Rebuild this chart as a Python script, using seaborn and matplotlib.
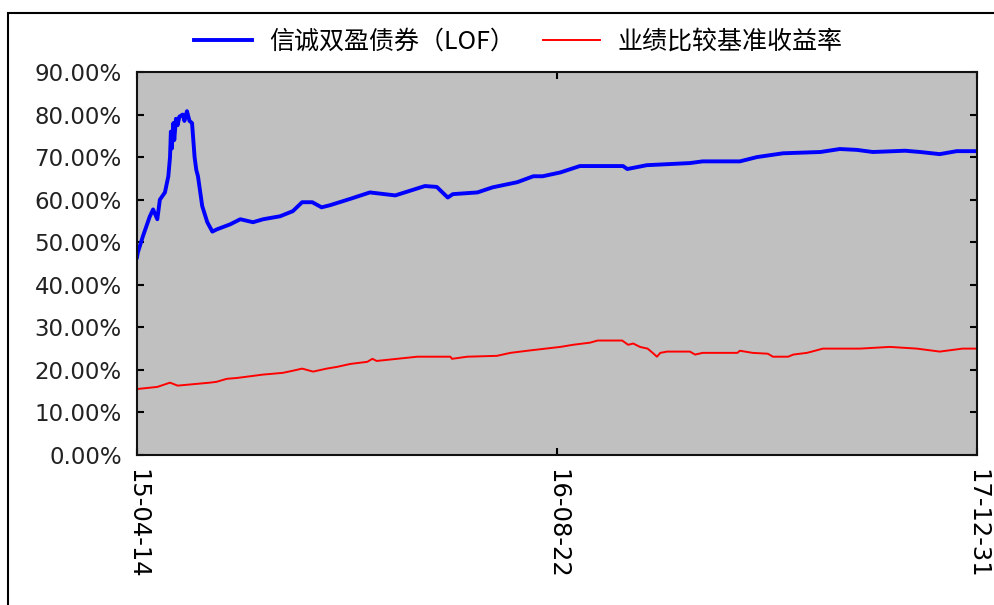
import pandas as pd
import seaborn as sns
import matplotlib.pyplot as plt
from matplotlib.patches import Rectangle

# 信诚双盈债券（LOF） cumulative return, %
fund_dates = [
    '2015-04-14', '2015-04-15', '2015-04-21', '2015-04-29', '2015-05-03', '2015-05-08',
    '2015-05-11', '2015-05-17', '2015-05-21', '2015-05-23', '2015-05-24', '2015-05-25',
    '2015-05-27', '2015-05-28', '2015-05-30', '2015-06-01', '2015-06-03', '2015-06-07',
    '2015-06-09', '2015-06-12', '2015-06-15', '2015-06-18', '2015-06-21', '2015-06-23',
    '2015-06-25', '2015-06-30', '2015-07-06', '2015-07-12', '2015-07-17', '2015-08-02',
    '2015-08-14', '2015-08-29', '2015-09-10', '2015-09-30', '2015-10-15', '2015-10-26',
    '2015-11-07', '2015-11-18', '2015-11-28', '2015-12-22', '2016-01-14', '2016-02-13',
    '2016-03-19', '2016-04-02', '2016-04-15', '2016-04-21', '2016-05-20', '2016-06-07',
    '2016-07-06', '2016-07-25', '2016-08-05', '2016-08-26', '2016-09-18', '2016-11-08',
    '2016-11-13', '2016-12-06', '2017-01-26', '2017-02-10', '2017-03-26', '2017-04-15',
    '2017-05-16', '2017-06-29', '2017-07-22', '2017-08-11', '2017-08-30', '2017-10-07',
    '2017-10-25', '2017-11-17', '2017-12-07', '2017-12-31',
]
fund_values = [
    46.5, 47.6, 51.4, 56.0, 57.7, 55.4,
    60.0, 61.7, 65.5, 70.0, 76.0, 72.0,
    78.0, 74.0, 79.0, 77.5, 79.5, 80.0,
    78.5, 80.8, 78.5, 78.0, 70.0, 67.0,
    65.5, 58.5, 54.7, 52.5, 53.0, 54.2,
    55.4, 54.7, 55.4, 56.1, 57.3, 59.4,
    59.4, 58.2, 58.7, 60.2, 61.7, 61.0,
    63.2, 63.0, 60.5, 61.3, 61.7, 62.9,
    64.1, 65.5, 65.5, 66.4, 67.9, 67.9,
    67.2, 68.1, 68.6, 69.0, 69.0, 70.0,
    70.9, 71.2, 71.9, 71.7, 71.2, 71.5,
    71.2, 70.7, 71.4, 71.4,
]

# 业绩比较基准收益率, %
bench_dates = [
    '2015-04-14', '2015-05-08', '2015-05-23', '2015-06-01', '2015-07-09', '2015-07-17',
    '2015-07-29', '2015-08-10', '2015-09-10', '2015-10-03', '2015-10-15', '2015-10-26',
    '2015-11-08', '2015-11-24', '2015-12-06', '2015-12-22', '2016-01-11', '2016-01-17',
    '2016-01-22', '2016-02-15', '2016-03-10', '2016-04-18', '2016-04-20', '2016-05-08',
    '2016-06-12', '2016-06-28', '2016-07-18', '2016-08-26', '2016-09-10', '2016-09-30',
    '2016-10-09', '2016-11-07', '2016-11-14', '2016-11-20', '2016-11-28', '2016-12-07',
    '2016-12-13', '2016-12-18', '2016-12-22', '2016-12-30', '2017-01-26', '2017-02-01',
    '2017-02-10', '2017-03-23', '2017-03-26', '2017-04-10', '2017-04-28', '2017-05-04',
    '2017-05-22', '2017-05-28', '2017-06-13', '2017-06-19', '2017-07-02', '2017-08-15',
    '2017-09-19', '2017-10-21', '2017-11-17', '2017-12-14', '2017-12-31',
]
bench_values = [
    15.5, 16.0, 17.0, 16.3, 17.0, 17.2,
    17.9, 18.1, 18.9, 19.3, 19.8, 20.3,
    19.6, 20.3, 20.7, 21.4, 21.9, 22.6,
    22.1, 22.6, 23.1, 23.1, 22.6, 23.1,
    23.3, 24.0, 24.5, 25.4, 25.9, 26.4,
    26.9, 26.9, 25.9, 26.2, 25.4, 25.0,
    24.0, 23.1, 24.0, 24.3, 24.3, 23.6,
    24.0, 24.0, 24.5, 24.0, 23.8, 23.1,
    23.1, 23.6, 24.0, 24.3, 25.0, 25.0,
    25.4, 25.0, 24.3, 25.0, 25.0,
]

tick_dates = ['2015-04-14', '2016-08-22', '2017-12-31']
tick_labels = ['15-04-14', '16-08-22', '17-12-31']
y_ticks = [0, 10, 20, 30, 40, 50, 60, 70, 80, 90]

fund_name = '信诚双盈债券（LOF）'
bench_name = '业绩比较基准收益率'

fund = pd.DataFrame({'date': pd.to_datetime(fund_dates), 'value': fund_values})
bench = pd.DataFrame({'date': pd.to_datetime(bench_dates), 'value': bench_values})

plt.rcParams['font.family'] = ['DejaVu Sans', 'Noto Sans CJK SC']

fig = plt.figure(figsize=(9.95, 6.05), dpi=100)
ax = fig.add_axes([137 / 995, 150 / 605, 840 / 995, 383 / 605])
ax.set_facecolor('#C0C0C0')

sns.lineplot(data=fund, x='date', y='value', ax=ax, color='#0000FF', lw=2.8, label=fund_name)
sns.lineplot(data=bench, x='date', y='value', ax=ax, color='#FF0000', lw=1.4, label=bench_name)

ax.set_xlim(pd.Timestamp(tick_dates[0]), pd.Timestamp(tick_dates[-1]))
ax.set_ylim(0, 90)
ax.set_xticks(pd.to_datetime(tick_dates))
ax.set_xticklabels(tick_labels, rotation=270, ha='center', va='top', fontsize=17.5)
ax.set_yticks(y_ticks)
ax.set_yticklabels([f'{v:.2f}%' for v in y_ticks], fontsize=16.5, color='#222222')
ax.set_xlabel('')
ax.set_ylabel('')

ax.tick_params(axis='y', direction='in', left=True, right=True, length=5, width=1.5, pad=11)
ax.tick_params(axis='x', direction='in', top=True, bottom=True, length=5, width=1.5, pad=10)
for s in ax.spines.values():
    s.set_linewidth(1.5)
    s.set_color('#111111')

ax.get_legend().remove()
handles, labels = ax.get_legend_handles_labels()
fig.legend(handles, labels, loc='center left', bbox_to_anchor=(182 / 995, 1 - 42 / 605),
           ncol=2, frameon=False, borderpad=0, handlelength=2.3, handletextpad=0.7,
           columnspacing=1.1, prop={'family': ['Noto Sans CJK SC', 'DejaVu Sans'], 'size': 18})

# outer frame of the picture
fig.patches.append(Rectangle((8 / 995, -0.1), 1.2, 1.1 - 13 / 605, transform=fig.transFigure,
                             fill=False, ec='black', lw=1.5))

fig.savefig('out.png', dpi=100)
